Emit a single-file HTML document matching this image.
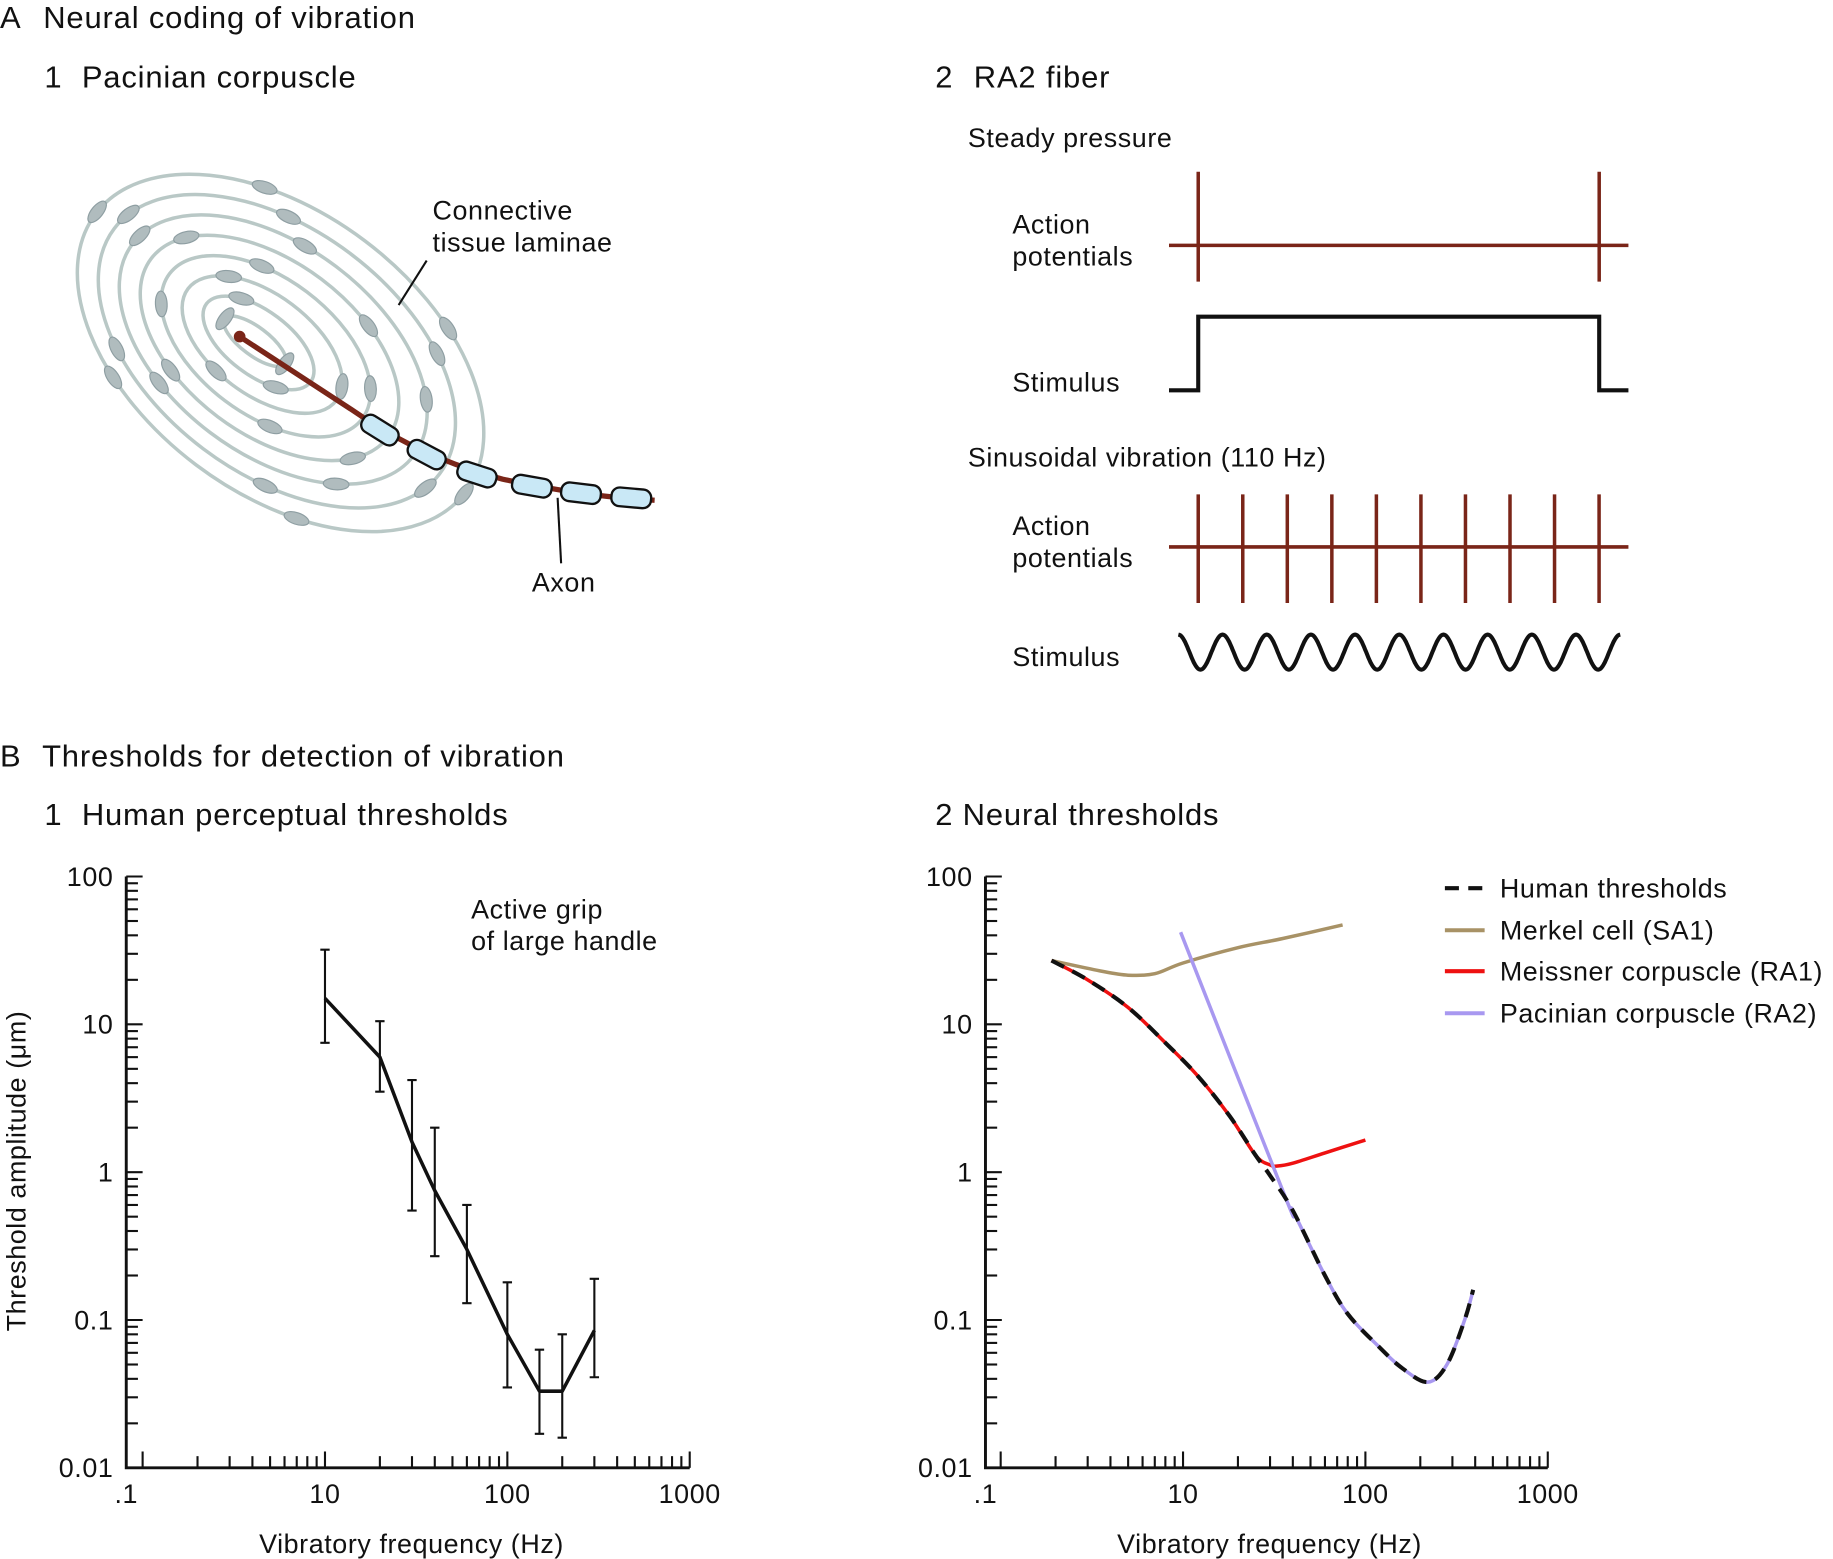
<!DOCTYPE html>
<html><head><meta charset="utf-8">
<style>
html,body{margin:0;padding:0;background:#fff;}
svg{display:block;}
text{font-family:"Liberation Sans",sans-serif;fill:#111;letter-spacing:0.5px;}
.h{font-size:26.5px;letter-spacing:0.7px;}
</style></head>
<body>
<svg id="fig" width="1833" height="1559" viewBox="0 0 1568 1334" preserveAspectRatio="none" xmlns="http://www.w3.org/2000/svg">
<g>
<text x="0" y="24" class="h">A</text>
<text x="37" y="24" class="h">Neural coding of vibration</text>
<text x="38" y="75" class="h">1</text>
<text x="70" y="75" class="h">Pacinian corpuscle</text>
<g id="corpuscle"></g>
<text x="370" y="188" font-size="23">Connective</text>
<text x="370" y="215" font-size="23">tissue laminae</text>
<line x1="365" y1="223" x2="341" y2="261" stroke="#111" stroke-width="1.8"/>
<text x="455" y="506" font-size="23">Axon</text>
<line x1="477" y1="426" x2="480" y2="482" stroke="#111" stroke-width="1.8"/>

<text x="800" y="75" class="h">2</text>
<text x="833" y="75" class="h">RA2 fiber</text>
<text x="828" y="126" font-size="23">Steady pressure</text>
<text x="866" y="200" font-size="23">Action</text>
<text x="866" y="227" font-size="23">potentials</text>
<text x="866" y="335" font-size="23">Stimulus</text>
<g>
<line x1="1000" y1="210" x2="1393" y2="210" stroke="#7a2518" stroke-width="3"/>
<line x1="1025" y1="147" x2="1025" y2="241" stroke="#7a2518" stroke-width="3"/>
<line x1="1368" y1="147" x2="1368" y2="241" stroke="#7a2518" stroke-width="3"/>
</g>
<polyline points="1000,334 1025,334 1025,271 1368,271 1368,334 1393,334" fill="none" stroke="#111" stroke-width="3.5"/>
<text x="828" y="399" font-size="23">Sinusoidal vibration (110 Hz)</text>
<text x="866" y="458" font-size="23">Action</text>
<text x="866" y="485" font-size="23">potentials</text>
<text x="866" y="570" font-size="23">Stimulus</text>
<g id="vibAP"></g>
<path id="sine" fill="none" stroke="#111" stroke-width="3.5"/>
</g>

<g>
<text x="0" y="656" class="h">B</text>
<text x="36" y="656" class="h">Thresholds for detection of vibration</text>
<text x="38" y="706" class="h">1</text>
<text x="70" y="706" class="h">Human perceptual thresholds</text>
<text x="800" y="706" class="h">2 Neural thresholds</text>
<g id="chart1"></g>
<g id="chart2"></g>
<text x="403" y="786" font-size="23">Active grip</text>
<text x="403" y="813" font-size="23">of large handle</text>
<text transform="translate(22,1002) rotate(-90)" text-anchor="middle" font-size="23">Threshold amplitude (μm)</text>
<text x="352" y="1329" text-anchor="middle" font-size="23">Vibratory frequency (Hz)</text>
<text x="1086" y="1329" text-anchor="middle" font-size="23">Vibratory frequency (Hz)</text>
<g>
<g><line x1="1236" y1="760" x2="1270" y2="760" stroke="#111" stroke-width="3.5" stroke-dasharray="12,8"/><text x="1283" y="768" font-size="23">Human thresholds</text></g>
<g><line x1="1236" y1="796" x2="1270" y2="796" stroke="#a89266" stroke-width="3.5"/><text x="1283" y="804" font-size="23">Merkel cell (SA1)</text></g>
<g><line x1="1236" y1="831" x2="1270" y2="831" stroke="#ee1111" stroke-width="3.5"/><text x="1283" y="839" font-size="23">Meissner corpuscle (RA1)</text></g>
<g><line x1="1236" y1="867" x2="1270" y2="867" stroke="#a898f0" stroke-width="3.5"/><text x="1283" y="875" font-size="23">Pacinian corpuscle (RA2)</text></g>
</g>
</g>
</svg>
<script>
// ---- chart data ----
const yTicks = [100, 10, 1, 0.1, 0.01];
const yTickLabels = ["100", "10", "1", "0.1", "0.01"];
const xTicks = [0.81, 10, 100, 1000];
const xTickLabels = [".1", "10", "100", "1000"];
const percFreq = [10, 20, 30, 40, 60, 100, 150, 200, 300];
const percMean = [15, 6, 1.6, 0.75, 0.3, 0.08, 0.033, 0.033, 0.085];
const percHigh = [32, 10.5, 4.2, 2, 0.6, 0.18, 0.063, 0.08, 0.19];
const percLow = [7.5, 3.5, 0.55, 0.27, 0.13, 0.035, 0.017, 0.016, 0.041];
const humanFreq = [1.9, 3, 5, 8, 12, 18, 25, 30, 40, 60, 80, 120, 160, 220, 280, 350, 390];
const humanVal = [27, 20, 13, 7.5, 4.5, 2.4, 1.3, 0.95, 0.55, 0.2, 0.11, 0.065, 0.047, 0.038, 0.05, 0.1, 0.16];
const merkelFreq = [1.9, 3.5, 5, 7, 10, 20, 35, 75];
const merkelVal = [27, 23, 21.5, 22, 26, 33, 38, 47];
const meissnerFreq = [1.9, 3, 5, 8, 12, 18, 25, 30, 33, 40, 60, 100];
const meissnerVal = [27, 20, 13, 7.5, 4.5, 2.4, 1.3, 1.12, 1.1, 1.15, 1.35, 1.65];
const pacinianFreq = [9.7, 36, 40, 60, 80, 120, 160, 220, 280, 350, 390];
const pacinianVal = [42, 0.7, 0.55, 0.2, 0.11, 0.065, 0.047, 0.038, 0.05, 0.1, 0.16];

const NS = "http://www.w3.org/2000/svg";
function mk(tag, attrs, parent) {
  const e = document.createElementNS(NS, tag);
  for (const k in attrs) e.setAttribute(k, attrs[k]);
  parent.appendChild(e);
  return e;
}
const yScale = v => 1256 - 126.5 * (Math.log10(v) + 2);
function xScaleFor(x10) { return f => x10 + 156 * (Math.log10(f) - 1); }
function smoothPath(pts) {
  let d = "M" + pts[0][0] + "," + pts[0][1];
  for (let i = 0; i < pts.length - 1; i++) {
    const p0 = pts[i - 1] || pts[i], p1 = pts[i], p2 = pts[i + 1], p3 = pts[i + 2] || p2;
    const c1 = [p1[0] + (p2[0] - p0[0]) / 6, p1[1] + (p2[1] - p0[1]) / 6];
    const c2 = [p2[0] - (p3[0] - p1[0]) / 6, p2[1] - (p3[1] - p1[1]) / 6];
    d += " C" + c1 + " " + c2 + " " + p2;
  }
  return d;
}
function axes(g, x10, xLeft, labelRight) {
  const xs = xScaleFor(x10);
  const ax = mk("path", {d: "M" + xLeft + ",750 L" + xLeft + ",1256 L" + xs(1000) + ",1256", fill: "none", stroke: "#111", "stroke-width": 2.5}, g);
  
  
  for (let d = 0; d < 3; d++) for (let m = 1; m <= 10; m++) {
    const f = Math.pow(10, d) * m;
    if (m === 10 && d < 2) continue;
    const x = xs(f);
    const t = mk("line", {x1: x, x2: x, y1: 1256, y2: 1256 - (m === 1 || m === 10 ? 14 : 10), stroke: "#111", "stroke-width": 1.8}, g);
    
    
  }
  for (let d = -2; d < 2; d++) for (let m = 1; m <= 10; m++) {
    if (m === 10 && d < 1) continue;
    const y = yScale(Math.pow(10, d) * m);
    const t = mk("line", {x1: xLeft, x2: xLeft + (m === 1 || m === 10 ? 14 : 10), y1: y, y2: y, stroke: "#111", "stroke-width": 1.8}, g);
    
    
  }
  yTicks.forEach((v, i) => {
    const t = mk("text", {x: labelRight, y: yScale(v) + 8, "text-anchor": "end", "font-size": 23}, g);
    t.textContent = yTickLabels[i];
    
    
  });
  xTicks.forEach((v, i) => {
    const t = mk("text", {x: i === 0 ? xLeft : xs(v), y: 1286, "text-anchor": "middle", "font-size": 23}, g);
    t.textContent = xTickLabels[i];
    
    
  });
  return xs;
}
// chart 1
const g1 = document.getElementById("chart1");
const xs1 = axes(g1, 278, 108, 97);
percFreq.forEach((f, i) => {
  const x = xs1(f);
  const e = mk("path", {d: "M" + x + "," + yScale(percHigh[i]) + " V" + yScale(percLow[i]) + " M" + (x - 4) + "," + yScale(percHigh[i]) + " h8 M" + (x - 4) + "," + yScale(percLow[i]) + " h8", stroke: "#111", "stroke-width": 1.8, fill: "none"}, g1);
  
  
});
const pl = mk("polyline", {points: percFreq.map((f, i) => xs1(f) + "," + yScale(percMean[i])).join(" "), fill: "none", stroke: "#111", "stroke-width": 3, "stroke-linejoin": "round"}, g1);


// chart 2
const g2 = document.getElementById("chart2");
const xs2 = axes(g2, 1012, 843, 832);
function series(fr, vals, name, attrs) {
  const p = mk("path", Object.assign({d: smoothPath(fr.map((f, i) => [xs2(f), yScale(vals[i])])), fill: "none", "stroke-linecap": "butt"}, attrs), g2);
  
  
}
series(merkelFreq, merkelVal, 'merkel-line', {stroke: "#a89266", "stroke-width": 3});
series(meissnerFreq, meissnerVal, 'meissner-line', {stroke: "#ee1111", "stroke-width": 3});
series(pacinianFreq, pacinianVal, 'pacinian-line', {stroke: "#a898f0", "stroke-width": 3});
series(humanFreq, humanVal, 'human-threshold-line', {stroke: "#111", "stroke-width": 3.5, "stroke-dasharray": "12,8"});

// panel A2
const vap = document.getElementById("vibAP");
const l0 = mk("line", {x1: 1000, x2: 1393, y1: 468, y2: 468, stroke: "#7a2518", "stroke-width": 3}, vap);


for (let i = 0; i < 10; i++) {
  const x = 1025 + i * 38.1;
  const s = mk("line", {x1: x, x2: x, y1: 423, y2: 516, stroke: "#7a2518", "stroke-width": 3}, vap);
  
  
}
let sd = "";
for (let i = 0; i <= 400; i++) {
  const x = 1008 + i * (378 / 400);
  const y = 558 - 15 * Math.cos(i / 400 * 10 * 2 * Math.PI);
  sd += (i ? " L" : "M") + x.toFixed(1) + "," + y.toFixed(1);
}
document.getElementById("sine").setAttribute("d", sd);

// corpuscle
const cg = document.getElementById("corpuscle");
const N = 8;
for (let k = 0; k < N; k++) {
  const t = k / (N - 1);
  const cx = 218 + 22 * t, cy = 292 + 10 * t;
  const rx = 32 + (198 - 32) * t, ry = 12 + (120 - 12) * t;
  const e = mk("ellipse", {cx: cx, cy: cy, rx: rx, ry: ry, transform: "rotate(37 " + cx + " " + cy + ")", fill: "none", stroke: "#b9c8c6", "stroke-width": 3}, cg);
  
  
  const n = 2 + Math.floor(k * 0.7);
  for (let j = 0; j < n; j++) {
    const a = (j / n) * 2 * Math.PI + k * 0.9;
    const px = rx * Math.cos(a), py = ry * Math.sin(a);
    const r = 37 * Math.PI / 180;
    const X = cx + px * Math.cos(r) - py * Math.sin(r), Y = cy + px * Math.sin(r) + py * Math.cos(r);
    const ang = Math.atan2(ry * Math.cos(a), -rx * Math.sin(a)) * 180 / Math.PI + 37;
    const nd = mk("ellipse", {cx: X, cy: Y, rx: 11, ry: 5, transform: "rotate(" + ang + " " + X + " " + Y + ")", fill: "#b0bcbe", stroke: "#8e9ea2", "stroke-width": 1}, cg);
    
    
  }
}
const axon = mk("path", {d: "M205,288 L300,350 Q360,392 430,410 Q500,425 560,428", fill: "none", stroke: "#7a2518", "stroke-width": 4.5}, cg);


const term = mk("circle", {cx: 205, cy: 288, r: 5, fill: "#7a2518"}, cg);


const myel = [[325, 368, 32], [365, 389, 28], [408, 406, 18], [455, 416, 10], [497, 422, 7], [540, 426, 5]];
myel.forEach(m => {
  const r = mk("rect", {x: m[0] - 17, y: m[1] - 8, width: 34, height: 16, rx: 7, fill: "#c9e8f6", stroke: "#111", "stroke-width": 2, transform: "rotate(" + m[2] + " " + m[0] + " " + m[1] + ")"}, cg);
  
  
});
</script>
</body></html>
